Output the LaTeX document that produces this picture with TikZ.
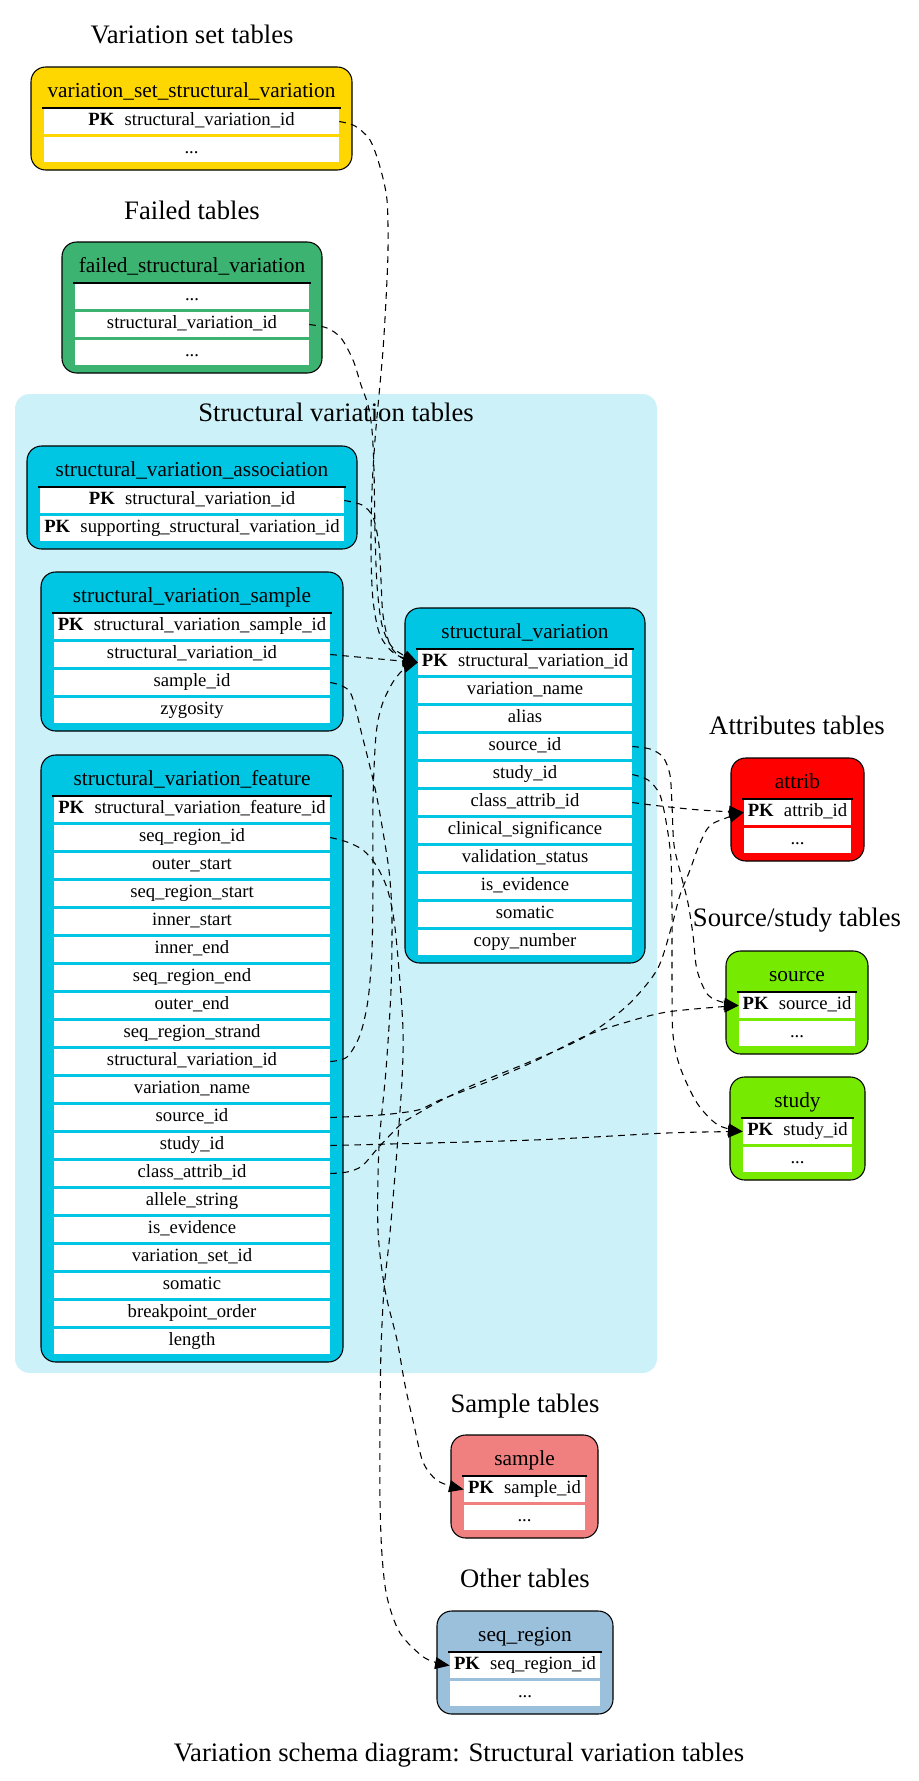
\documentclass[tikz,border=0pt]{standalone}
\usepackage{fontspec}
\setmainfont{Liberation Serif}
\usetikzlibrary{arrows.meta}

\definecolor{vsgold}{RGB}{255,215,0}
\definecolor{failgreen}{RGB}{60,179,113}
\definecolor{svcyan}{RGB}{0,197,227}
\definecolor{svback}{RGB}{204,241,249}
\definecolor{attribred}{RGB}{255,0,0}
\definecolor{srcgreen}{RGB}{118,234,0}
\definecolor{samplecoral}{RGB}{240,128,128}
\definecolor{otherblue}{RGB}{154,192,220}

\tikzset{
  tablebox/.style={draw=black, line width=0.8pt, rounded corners=11pt},
  sepline/.style={draw=black, line width=1.3pt},
  rowcell/.style={fill=white, inner sep=0pt, minimum height=18.75pt,
    text height=9.5pt, text depth=3.5pt, font=\fontsize{14pt}{16pt}\selectfont},
  tabletitle/.style={anchor=base, inner sep=0pt, font=\fontsize{16pt}{19pt}\selectfont},
  grouplabel/.style={anchor=base, inner sep=0pt, font=\fontsize{20pt}{24pt}\selectfont},
  fk/.style={draw=black, line width=0.8pt, dash pattern=on 5pt off 4pt,
    -{Triangle[length=11pt,width=9pt]}},
}

\newcommand\pkey{\textbf{PK}\hspace{0.55em}}
% placeholder row text (kept as a macro so that the row loop does not read it as a range)
\newcommand\etcrow{...}

% #1 name, #2 colour, #3 left, #4 right, #5 separator y, #6 row count,
% #7 title, #8 rows
\newcommand\dbtable[8]{%
  \pgfmathsetmacro\tbtop{#5-41}%
  \pgfmathsetmacro\tbbot{#5+6+28*#6}%
  \pgfmathsetmacro\tbmid{(#3+#4)/2}%
  \pgfmathsetmacro\tbrw{(#4-#3-26)*0.75}%
  \draw[tablebox, fill=#2] (#3,\tbtop) rectangle (#4,\tbbot);
  \node[tabletitle] (#1-title) at (\tbmid,#5-11) {#7};
  \draw[sepline] (#3+11,#5) -- (#4-11,#5);
  \foreach \rowtext [count=\i] in {#8} {
    \node[rowcell, minimum width=\tbrw pt] (#1-\i) at (\tbmid,{#5+13.5+28*(\i-1)}) {\rowtext};
  }%
}

\begin{document}
\begin{tikzpicture}[x=0.75pt, y=-0.75pt]
\useasboundingbox (0,0) rectangle (919,1781);

% structural variation group background
\fill[svback, rounded corners=11pt] (15,394) rectangle (657,1373);

% group labels
\node[grouplabel] (lab-vs)   at (192,43)   {Variation set tables};
\node[grouplabel] (lab-fail) at (192,219)  {Failed tables};
\node[grouplabel] (lab-sv)   at (336,421)  {Structural variation tables};
\node[grouplabel] (lab-attr) at (797,734)  {Attributes tables};
\node[grouplabel] (lab-src)  at (797,926)  {Source/study tables};
\node[grouplabel] (lab-smp)  at (525,1412) {Sample tables};
\node[grouplabel] (lab-oth)  at (525,1587) {Other tables};
\node[grouplabel] (caption)  at (459,1761) {Variation schema diagram: Structural variation tables};

% tables
\dbtable{vsv}{vsgold}{31}{352}{108}{2}{variation\_set\_structural\_variation}
  {{\pkey structural\_variation\_id}, \etcrow}
\dbtable{fsv}{failgreen}{62}{322}{283}{3}{failed\_structural\_variation}
  {\etcrow, structural\_variation\_id, \etcrow}
\dbtable{sva}{svcyan}{27}{357}{487}{2}{structural\_variation\_association}
  {{\pkey structural\_variation\_id}, {\pkey supporting\_structural\_variation\_id}}
\dbtable{svs}{svcyan}{41}{343}{613}{4}{structural\_variation\_sample}
  {{\pkey structural\_variation\_sample\_id}, structural\_variation\_id, sample\_id, zygosity}
\dbtable{svf}{svcyan}{41}{343}{796}{20}{structural\_variation\_feature}
  {{\pkey structural\_variation\_feature\_id}, seq\_region\_id, outer\_start,
   seq\_region\_start, inner\_start, inner\_end, seq\_region\_end, outer\_end,
   seq\_region\_strand, structural\_variation\_id, variation\_name, source\_id,
   study\_id, class\_attrib\_id, allele\_string, is\_evidence, variation\_set\_id,
   somatic, breakpoint\_order, length}
\dbtable{sv}{svcyan}{405}{645}{649}{11}{structural\_variation}
  {{\pkey structural\_variation\_id}, variation\_name, alias, source\_id, study\_id,
   class\_attrib\_id, clinical\_significance, validation\_status, is\_evidence,
   somatic, copy\_number}
\dbtable{attrib}{attribred}{731}{864}{799}{2}{attrib}
  {{\pkey attrib\_id}, \etcrow}
\dbtable{source}{srcgreen}{726}{868}{992}{2}{source}
  {{\pkey source\_id}, \etcrow}
\dbtable{study}{srcgreen}{730}{865}{1118}{2}{study}
  {{\pkey study\_id}, \etcrow}
\dbtable{sample}{samplecoral}{451}{598}{1476}{2}{sample}
  {{\pkey sample\_id}, \etcrow}
\dbtable{seqreg}{otherblue}{437}{613}{1652}{2}{seq\_region}
  {{\pkey seq\_region\_id}, \etcrow}

% foreign keys into structural_variation
\draw[fk] plot[smooth] coordinates {(vsv-1.east) (355,126) (370,140) (380,167)
  (387,200) (388,250) (386,300) (383,350) (379,395) (375,440) (372,490) (371,550)
  (373,600) (380,635) (395,654) (sv-1.west)};
\draw[fk] plot[smooth] coordinates {(fsv-2.east) (327,328) (341,338) (353,360)
  (361,385) (368,405) (372,430) (374,470) (375,530) (377,585) (382,625) (393,648)
  (sv-1.west)};
\draw[fk] plot[smooth] coordinates {(sva-1.east) (362,505) (373,517) (379,545)
  (381,580) (383,615) (390,645) (402,658) (sv-1.west)};
\draw[fk] (svs-2.east) -- (sv-1.west);
\draw[fk] plot[smooth] coordinates {(svf-10.east) (347,1057) (360,1035) (368,1000)
  (372,950) (373,880) (373,800) (376,735) (382,705) (393,682) (405,668) (sv-1.west)};

% sample and seq_region
\draw[fk] plot[smooth] coordinates {(svs-3.east) (350,692) (362,735) (376,793)
  (386,850) (390,880) (392,920) (391,990) (386,1070) (379,1147) (378,1230)
  (385,1290) (397,1340) (405,1385) (414,1425) (423,1462) (438,1481) (sample-1.west)};
\draw[fk] plot[smooth] coordinates {(svf-2.east) (347,842) (363,850) (376,865)
  (387,888) (394,920) (399,970) (403,1030) (402,1080) (397,1150) (390,1233)
  (384,1290) (381,1350) (380,1420) (380,1500) (382,1555) (387,1597) (400,1633)
  (425,1658) (seqreg-1.west)};

% source, study and attrib
\draw[fk] plot[smooth] coordinates {(svf-12.east) (380,1115) (418,1110) (440,1100)
  (487,1082) (533,1062) (583,1037) (617,1025) (667,1012) (source-1.west)};
\draw[fk] plot[smooth] coordinates {(svf-13.east) (533,1140) (667,1133) (study-1.west)};
\draw[fk] plot[smooth] coordinates {(svf-14.east) (347,1172) (362,1166) (378,1148)
  (400,1125) (412,1117) (440,1101) (473,1085) (527,1063) (577,1041) (607,1022)
  (633,1000) (658,968) (672,925) (680,895) (690,870) (700,843) (712,824) (attrib-1.west)};
\draw[fk] plot[smooth] coordinates {(sv-4.east) (650,749) (663,757) (670,775)
  (672,805) (674,845) (681,875) (688,903) (693,935) (697,970) (708,995) (725,1003)
  (source-1.west)};
\draw[fk] plot[smooth] coordinates {(sv-5.east) (648,780) (660,795) (667,827)
  (671,860) (672,910) (672,990) (673,1035) (680,1067) (697,1103) (718,1125)
  (study-1.west)};
\draw[fk] plot[smooth] coordinates {(sv-6.east) (660,806) (700,810) (attrib-1.west)};
\end{tikzpicture}
\end{document}
